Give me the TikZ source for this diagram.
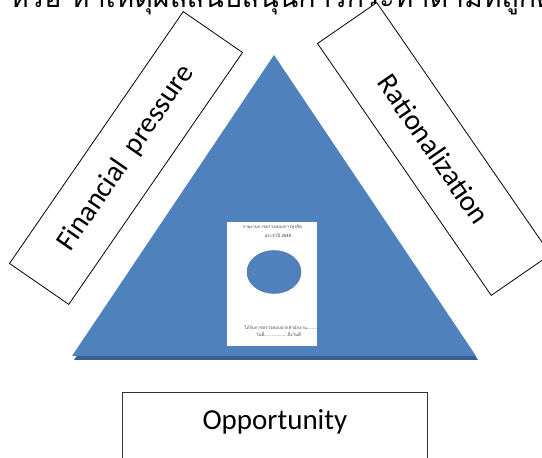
\documentclass[tikz,border=0pt]{standalone}
\usepackage{fontspec}
\setmainfont{Carlito}
\newfontfamily\thaifont[Script=Thai]{Loma}
\usetikzlibrary{shapes.geometric}
\definecolor{triblue}{HTML}{4F81BD}
\definecolor{trishadow}{HTML}{3A5F8E}
\begin{document}
\begin{tikzpicture}[x=1pt,y=1pt,
  labelbox/.style={draw=black, line width=0.8pt, fill=white, minimum width=306pt,
    minimum height=72pt, inner sep=0pt, font=\fontsize{29}{34}\selectfont},
  tinytext/.style={inner sep=0pt, text=black!75, font=\thaifont\fontsize{4.4}{5}\selectfont},
  bigtext/.style={inner sep=0pt, font=\fontsize{29}{34}\selectfont}]
\useasboundingbox (0,0) rectangle (542,458);
\clip (0,0) rectangle (542,458);
\fill[white] (0,0) rectangle (542,458);
% heading (clipped at top)
\node[bigtext, font=\thaifont\fontsize{28.5}{34}\selectfont, anchor=base west] (head) at (10,450.5)
  {หรือ หาเหตุผลสนับสนุนการกระทำตามที่ถูกต้อง};
% triangle with shadow
\coordinate (apex) at (274,403);
\coordinate (bl) at (72,102);
\coordinate (br) at (476,102);
\fill[trishadow] ([shift={(2,-4)}]apex) -- ([shift={(2,-4)}]bl) -- ([shift={(2,-4)}]br) -- cycle;
\fill[triblue] (apex) -- (bl) -- (br) -- cycle;
% document page
\node[fill=white, minimum width=90pt, minimum height=124pt, inner sep=0pt] (page) at (272,174) {};
\node[ellipse, fill=triblue, draw=triblue!85!black, line width=0.4pt, minimum width=54pt, minimum height=43pt, inner sep=0pt] (hole) at (274,186) {};
\node[tinytext] (t1) at (272.5,231) {รายงานการตรวจสอบการทุจริต};
\node[tinytext] (t2) at (278,222) {ประจำปี 2549};
\node[tinytext] (t3) at (282,130) {ได้รับการตรวจสอบจากสำนักงาน..........};
\node[tinytext] (t4) at (278.5,124) {วันที่...................ถึงวันที่};
% side boxes
\node[labelbox, rotate=55.4] (fin) at (126,300) {Financial\ \ pressure};
\node[labelbox, rotate=-55.4] (rat) at (434,309) {Rationalization};
% bottom box
\node[draw=black!80, line width=0.8pt, minimum width=305pt, minimum height=86pt, inner sep=0pt, anchor=north west] (opp) at (122,66) {};
\node[bigtext, anchor=base] (opptext) at ([yshift=-38pt]opp.north) {Opportunity};
\end{tikzpicture}
\end{document}
